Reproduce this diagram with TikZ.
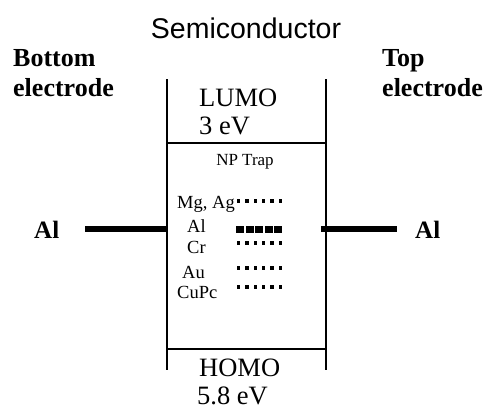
\documentclass[tikz,border=0pt]{standalone}
\usepackage{fontspec}
\setmainfont{Liberation Serif}
\newfontfamily\semisans{Liberation Sans}
\begin{document}
\begin{tikzpicture}[x=1pt,y=-1pt,
  lbl/.style={inner sep=0pt,anchor=base west},
  bigbold/.style={lbl,font=\fontsize{26}{30}\selectfont\bfseries},
  level/.style={lbl,font=\fontsize{26.5}{28}\selectfont},
  metal/.style={lbl,font=\fontsize{18.5}{20}\selectfont},
  wall/.style={line width=1.4pt},
  lead/.style={line width=5.5pt},
  dotrow/.style={fill=black}]
\useasboundingbox (0,0) rectangle (486,410);
% title
\node[inner sep=0pt,anchor=base,font=\semisans\fontsize{28.5}{30}\selectfont] (title) at (246,38) {Semiconductor};
% electrode labels
\node[bigbold] (bot1) at (13,66) {Bottom};
\node[bigbold] (bot2) at (13,96) {electrode};
\node[bigbold] (top1) at (382,66) {Top};
\node[bigbold] (top2) at (382,96) {electrode};
% semiconductor box
\coordinate (lt) at (167,79);
\coordinate (lb) at (167,370);
\coordinate (rt) at (326,79);
\coordinate (rb) at (326,370);
\coordinate (lumoL) at (167,143);
\coordinate (lumoR) at (326,143);
\coordinate (homoL) at (167,349);
\coordinate (homoR) at (326,349);
\draw[wall] (lt) -- (lb);
\draw[wall] (rt) -- (rb);
\draw[wall] (lumoL) -- (lumoR);
\draw[wall] (homoL) -- (homoR);
% levels
\node[level] (lumo) at (199,106) {LUMO};
\node[level] (lumov) at (199,134) {3 eV};
\node[level] (homo) at (199,376) {HOMO};
\node[level] (homov) at (197,404) {5.8 eV};
% traps
\node[inner sep=0pt,anchor=base,font=\fontsize{17}{20}\selectfont] (np) at (245,165) {NP Trap};
\node[metal] (mg) at (177,208) {Mg, Ag};
\node[metal] (al) at (187,232) {Al};
\node[metal] (cr) at (187,253) {Cr};
\node[metal] (au) at (182,278) {Au};
\node[metal] (cupc) at (177,298) {CuPc};
\foreach \yy in {201,243,268,287}{
  \foreach \i in {0,...,5}{
    \fill[dotrow] ({238.5+\i*8.4-1.7},{\yy-1.7}) rectangle ++(3.4,3.4);
  }
}
\foreach \i in {0,...,4}{
  \fill[dotrow] ({236+\i*9.5},{229-3.5}) rectangle ++(8,7);
}
% electrodes
\node[bigbold,font=\fontsize{25}{28}\selectfont\bfseries] (alL) at (34,238) {Al};
\node[bigbold,font=\fontsize{25}{28}\selectfont\bfseries] (alR) at (415,238) {Al};
\coordinate (leadLa) at (85,229);
\coordinate (leadLb) at (166,229);
\coordinate (leadRa) at (321,229);
\coordinate (leadRb) at (397,229);
\draw[lead] (leadLa) -- (leadLb);
\draw[lead] (leadRa) -- (leadRb);
\end{tikzpicture}
\end{document}
